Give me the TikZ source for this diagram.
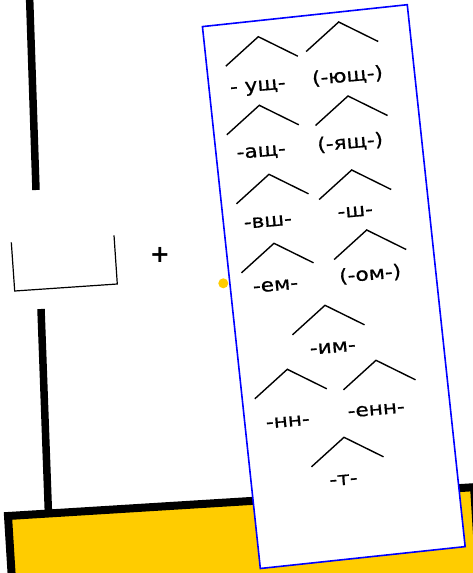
\documentclass[tikz,border=0pt]{standalone}
\usepackage{fontspec}
\setmainfont{DejaVu Sans}
\newfontfamily\lblfont{DejaVu Sans}[FakeBold=0.7]
\definecolor{gold}{RGB}{255,204,0}
\definecolor{frameblue}{RGB}{0,0,255}
\newcommand{\wideTxt}[1]{\scalebox{1.17}[1]{#1}}
\tikzset{
  thickbar/.style={line width=7.5pt},
  chev/.style={line width=1.4pt, line join=miter},
  lbl/.style={font=\lblfont\fontsize{18.5}{18.5}\selectfont, inner sep=0pt, anchor=base, rotate=5},
  chevron/.pic={\draw[chev] (-32.5,29.5) -- (0,0) -- (39.5,19.5);}
}
\begin{document}
\begin{tikzpicture}[x=1pt,y=-1pt]
\useasboundingbox (0,0) rectangle (473,573);
\clip (0,0) rectangle (473,573);
% thick bars
\coordinate (b1s) at (29.5,-5);
\coordinate (b1e) at (36,190);
\draw[thickbar] (b1s) -- (b1e);
\coordinate (b2s) at (41,309);
\coordinate (b2e) at (48.5,515);
\draw[thickbar] (b2s) -- (b2e);
% yellow box
\begin{scope}[shift={(8,516)}, rotate=3.54]
  \draw[line width=8pt, fill=gold] (0,0) rectangle (467,110);
\end{scope}
% bracket
\coordinate (k1) at (11.3,242.3);
\coordinate (k2) at (14.7,291);
\coordinate (k3) at (117.3,284);
\coordinate (k4) at (114,235.3);
\draw[line width=1.2pt] (k1) -- (k2) -- (k3) -- (k4);
% plus
\node[font=\fontsize{24}{24}\selectfont\bfseries, inner sep=0pt] (plus) at (160,255) {+};
% dot
\node[circle, fill=gold, minimum size=10pt, inner sep=0pt] (dot) at (223.3,283.3) {};
% card
\node[draw=frameblue, line width=1.6pt, fill=white, minimum width=206pt, minimum height=545pt, rotate=6.1, inner sep=0pt] (card) at (333.8,286.6) {};
% chevrons
\pic at (258.3,36.7) {chevron};
\pic at (338.7,22) {chevron};
\pic at (259.3,105.3) {chevron};
\pic at (348,96) {chevron};
\pic at (269,174.3) {chevron};
\pic at (351.7,170) {chevron};
\pic at (274,243.3) {chevron};
\pic at (366.7,230) {chevron};
\pic at (325,305.3) {chevron};
\pic at (287.3,369.3) {chevron};
\pic at (376,360.3) {chevron};
\pic at (344,437.3) {chevron};
% labels
\node[lbl] (t1) at (258.3,91) {\wideTxt{- ущ-}};
\node[lbl] (t2) at (348,81.7) {\wideTxt{(-ющ-)}};
\node[lbl] (t3) at (261.7,156.7) {\wideTxt{-ащ-}};
\node[lbl] (t4) at (350.7,148.3) {\wideTxt{(-ящ-)}};
\node[lbl] (t5) at (268.3,226.7) {\wideTxt{-вш-}};
\node[lbl] (t6) at (355.7,216.7) {\wideTxt{-ш-}};
\node[lbl] (t7) at (276,290.7) {\wideTxt{-ем-}};
\node[lbl] (t8) at (370.7,280) {\wideTxt{(-ом-)}};
\node[lbl] (t9) at (333.3,352.7) {\wideTxt{-им-}};
\node[lbl] (t10) at (288.3,426.7) {\wideTxt{-нн-}};
\node[lbl] (t11) at (376.7,415) {\wideTxt{-енн-}};
\node[lbl] (t12) at (344,485) {\wideTxt{-т-}};
\end{tikzpicture}
\end{document}
